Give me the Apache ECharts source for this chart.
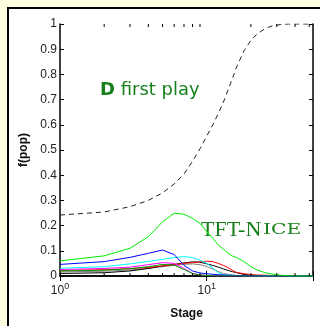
<!DOCTYPE html>
<html>
<head>
<meta charset="utf-8">
<script src="https://cdn.jsdelivr.net/npm/echarts@6/dist/echarts.min.js"></script>
<style>
  body { margin: 0; background: #fffde0; }
  #frame { position: absolute; left: 7px; top: 7px; width: 330px; height: 330px;
           border-left: 2px solid #000; border-top: 2px solid #000; background: #fff; }
  #chart { position: absolute; left: 0; top: 0; width: 320px; height: 326px; }
</style>
</head>
<body>
<div id="frame"></div>
<div id="chart"></div>
<script>
// stages (log x axis)
var stages = [1, 2, 3, 4, 5, 6, 7, 8, 9, 10, 11, 12, 13, 14, 15, 16, 18, 20, 22, 25, 28, 32, 36, 40, 45, 53];
var minorTicks = [2, 3, 4, 5, 6, 7, 8, 9, 20, 30, 40, 50];

// D first play (dashed)
var dFirst = [0.242, 0.254, 0.275, 0.30, 0.33, 0.365, 0.405, 0.455, 0.505, 0.555, 0.60, 0.645, 0.69, 0.74, 0.785, 0.83, 0.895, 0.935, 0.96, 0.982, 0.993, 0.998, 1, 1, 1, 1];
// strategies
var green = [0.06, 0.08, 0.11, 0.156, 0.215, 0.249, 0.245, 0.229, 0.209, 0.176, 0.15, 0.123, 0.106, 0.09, 0.079, 0.073, 0.057, 0.037, 0.024, 0.013, 0.008, 0.003, 0.001, 0, 0, 0];
var blue = [0.046, 0.057, 0.074, 0.09, 0.103, 0.085, 0.042, 0.02, 0.012, 0.009, 0.007, 0.005, 0.004, 0.003, 0.003, 0.002, 0.002, 0.001, 0.001, 0, 0, 0, 0, 0, 0, 0];
var cyan = [0.031, 0.037, 0.048, 0.058, 0.066, 0.073, 0.077, 0.073, 0.063, 0.05, 0.032, 0.012, 0.005, 0.003, 0.002, 0.002, 0.001, 0.001, 0, 0, 0, 0, 0, 0, 0, 0];
var magenta = [0.026, 0.03, 0.035, 0.045, 0.053, 0.05, 0.03, 0.01, 0.004, 0.002, 0.001, 0, 0, 0, 0, 0, 0, 0, 0, 0, 0, 0, 0, 0, 0, 0];
var red = [0.022, 0.025, 0.029, 0.034, 0.04, 0.045, 0.05, 0.053, 0.056, 0.059, 0.057, 0.05, 0.042, 0.033, 0.022, 0.014, 0.009, 0.006, 0.004, 0.003, 0.002, 0.002, 0.002, 0.002, 0.002, 0.002];
var black = [0.01, 0.013, 0.02, 0.03, 0.04, 0.046, 0.052, 0.056, 0.055, 0.048, 0.042, 0.035, 0.028, 0.022, 0.017, 0.013, 0.006, 0.003, 0.001, 0, 0, 0, 0, 0, 0, 0];
var gray = [0.016, 0.019, 0.024, 0.03, 0.037, 0.042, 0.046, 0.048, 0.045, 0.038, 0.028, 0.018, 0.01, 0.006, 0.003, 0.002, 0.001, 0, 0, 0, 0, 0, 0, 0, 0, 0];
var darkGreen = [0.02, 0.023, 0.029, 0.037, 0.046, 0.043, 0.026, 0.01, 0.004, 0.002, 0.001, 0, 0, 0, 0, 0, 0, 0, 0, 0, 0, 0, 0, 0, 0, 0];

function pairs(ys) {
    return stages.map(function (s, i) { return [s, ys[i]]; });
}
function solid(name, color, ys) {
    return {
        name: name, type: "line", data: pairs(ys), showSymbol: false,
        lineStyle: {color: color, width: 1}, z: 3
    };
}

var chart = echarts.init(document.getElementById("chart"));
var axisLine = {lineStyle: {color: "#000", width: 1.5}};
var txtGreen = "#17801a";
var option = {
    animation: false,
    grid: {left: 60, right: 7, top: 24, bottom: 50},
    xAxis: [
        {
            type: "log", logBase: 10, min: 1, max: 53,
            axisLine: axisLine,
            axisTick: {inside: true, length: 5, lineStyle: {color: "#000"}},
            splitLine: {show: false},
            axisLabel: {
                margin: 6, color: "#222",
                formatter: function (v) {
                    var e = Math.log10(v);
                    if (Math.abs(e - Math.round(e)) > 1e-6) return "";
                    return "{b|10}{s|" + Math.round(e) + "}";
                },
                rich: {
                    b: {fontSize: 12, fontFamily: "Liberation Sans"},
                    s: {fontSize: 9, fontFamily: "Liberation Sans", padding: [0, 0, 8, 0]}
                }
            },
            name: "Stage", nameLocation: "middle", nameGap: 32,
            nameTextStyle: {fontSize: 12, fontWeight: "bold", color: "#111", fontFamily: "Liberation Sans"}
        },
        {
            type: "log", logBase: 10, min: 1, max: 53, position: "top",
            axisLine: axisLine,
            axisTick: {inside: true, length: 5, lineStyle: {color: "#000"}},
            axisLabel: {show: false}, splitLine: {show: false}
        }
    ],
    yAxis: [
        {
            type: "value", min: 0, max: 1, interval: 0.1,
            axisLine: axisLine,
            axisTick: {inside: true, length: 4, lineStyle: {color: "#000"}},
            splitLine: {show: false},
            axisLabel: {margin: 3, fontSize: 12, color: "#222", fontFamily: "Liberation Sans"},
            name: "f(pop)", nameLocation: "middle", nameGap: 30,
            nameTextStyle: {fontSize: 12, fontWeight: "bold", color: "#111", fontFamily: "Liberation Sans"}
        },
        {
            type: "value", min: 0, max: 1, interval: 0.1, position: "right",
            axisLine: axisLine,
            axisTick: {inside: true, length: 4, lineStyle: {color: "#000"}},
            axisLabel: {show: false}, splitLine: {show: false}
        }
    ],
    graphic: [
        {
            type: "text", left: 100, top: 81,
            style: {
                text: "{d|D} first play",
                fill: txtGreen, font: "18px 'DejaVu Sans'",
                rich: {d: {fontWeight: "bold", fontSize: 18, fontFamily: "DejaVu Sans", fill: txtGreen}}
            }
        },
        {
            type: "text", x: 201, y: 219,
            style: {text: "TFT-N", fill: txtGreen, font: "22px 'Liberation Serif'"}
        },
        {
            type: "text", x: 263, y: 223, scaleX: 1.35,
            style: {text: "ICE", fill: txtGreen, font: "15px 'DejaVu Serif'"}
        }
    ],
    series: [
        solid("gray", "#808080", gray),
        solid("black", "#000", black),
        solid("red", "#ff0000", red),
        solid("magenta", "#ff00ff", magenta),
        solid("cyan", "#00ffff", cyan),
        solid("blue", "#0000ff", blue),
        solid("green", "#00ee00", green),
        solid("darkGreen", "#009900", darkGreen),
        {
            name: "D first play", type: "line", data: pairs(dFirst), showSymbol: false,
            lineStyle: {color: "#222", width: 1, type: [5, 4]}, z: 4
        },
        {
            // minor ticks of the log axis, bottom and top
            type: "custom", silent: true, z: 5,
            data: minorTicks.map(function (v) { return [v, 0]; }),
            renderItem: function (params, api) {
                var b = api.coord([api.value(0), 0]);
                var t = api.coord([api.value(0), 1]);
                var st = {stroke: "#000", lineWidth: 1};
                return {
                    type: "group", children: [
                        {type: "line", shape: {x1: b[0], y1: b[1], x2: b[0], y2: b[1] - 3}, style: st},
                        {type: "line", shape: {x1: t[0], y1: t[1], x2: t[0], y2: t[1] + 3}, style: st}
                    ]
                };
            }
        }
    ]
};
chart.setOption(option, true);
</script>
</body>
</html>
